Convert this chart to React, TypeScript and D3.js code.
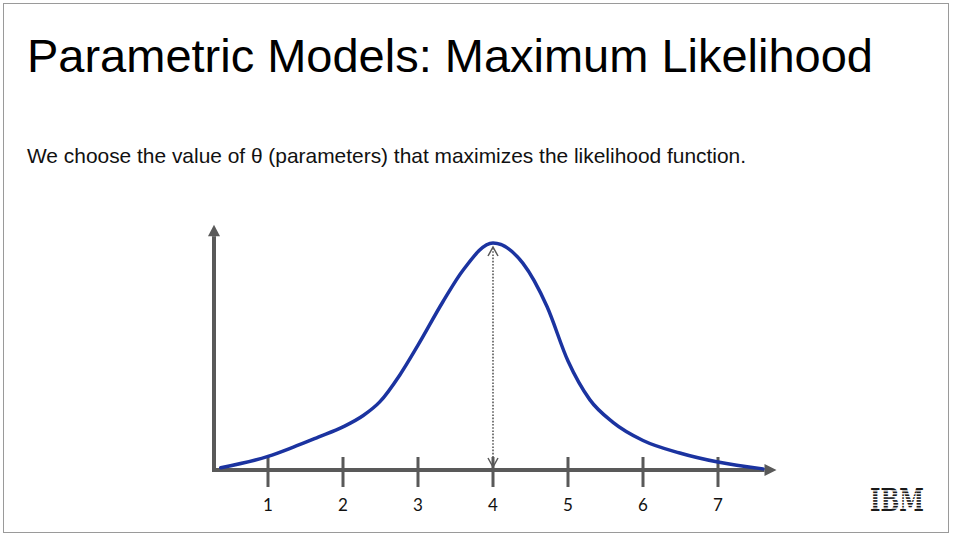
import * as d3 from 'd3';

// Curve (theta vs relative likelihood)
const thetaValues = [0.37, 1, 1.33, 1.67, 2, 2.27, 2.49, 2.76, 3, 3.33, 3.6, 4, 4.4, 4.72, 5, 5.29, 5.6, 6, 6.49, 7, 7.6];
const likelihoodValues = [0.01, 0.06, 0.1, 0.145, 0.19, 0.24, 0.3, 0.42, 0.55, 0.74, 0.88, 1.0, 0.91, 0.72, 0.48, 0.31, 0.21, 0.13, 0.075, 0.035, 0.005];
const xTicks = [1, 2, 3, 4, 5, 6, 7];
const thetaMax = 4;

const title = 'Parametric Models: Maximum Likelihood';
const subtitle = 'We choose the value of θ (parameters) that maximizes the likelihood function.';

const W = 953;
const H = 541;
const axisColor = '#595959';
const curveColor = '#1b33a0';

export default function App() {
  const x = d3.scaleLinear().domain([0, 1]).range([193, 268]);
  const y = d3.scaleLinear().domain([0, 1]).range([470, 243]);

  const pts = thetaValues.map((t, i) => [t, likelihoodValues[i]] as [number, number]);
  const line = d3.line<[number, number]>()
    .x(d => x(d[0]))
    .y(d => y(d[1]))
    .curve(d3.curveMonotoneX);

  const x0 = x(0.28);
  const x1 = x(7.62);
  const xTip = x(7.78);
  const y0 = y(0);
  const yTop = y(1.03);
  const yTip = y(1.08);

  const mx = x(thetaMax);
  const peakY = y(1) + 3;

  // IBM logo stripes
  const stripes = d3.range(7).map(i => 488 + (i + 1) * (23 / 8) - 0.6);

  return (
    <div style={{ position: 'fixed', left: 0, top: 0 }}>
      <svg width={W} height={H} style={{ display: 'block', background: '#fff' }}>
        <rect x={3.5} y={3.5} width={945} height={529} fill="#fff" stroke="#9a9a9a" strokeWidth={1} />
        <text x={27} y={72} fontFamily="Liberation Sans, Arial, sans-serif" fontSize={47} textLength={846} lengthAdjust="spacingAndGlyphs" fill="#000">{title}</text>
        <text x={27} y={163} fontFamily="Liberation Sans, Arial, sans-serif" fontSize={21} textLength={719} lengthAdjust="spacingAndGlyphs" fill="#111">{subtitle}</text>

        {/* y axis */}
        <line x1={x0} x2={x0} y1={y0 + 2} y2={yTop} stroke={axisColor} strokeWidth={4} />
        <path d={`M${x0},${yTip} L${x0 - 6},${yTop} L${x0 + 6},${yTop} Z`} fill={axisColor} />

        {/* x axis */}
        <line x1={x0 - 2} x2={x1} y1={y0} y2={y0} stroke={axisColor} strokeWidth={4} />
        <path d={`M${xTip},${y0} L${x1},${y0 - 6} L${x1},${y0 + 6} Z`} fill={axisColor} />

        {xTicks.map(t => (
          <g key={t}>
            <line x1={x(t)} x2={x(t)} y1={y0 - 13} y2={y0 + 17} stroke={axisColor} strokeWidth={3} />
            <text x={x(t)} y={511} textAnchor="middle" fontFamily="Lato, Open Sans, sans-serif" fontSize={17} fill="#111">{t}</text>
          </g>
        ))}

        {/* dotted arrow at the maximum */}
        <line x1={mx} x2={mx} y1={peakY + 2} y2={y0 - 3} stroke={axisColor} strokeWidth={1.6} strokeDasharray="1.6,1.6" />
        <path d={`M${mx - 5},${peakY + 10} L${mx},${peakY + 1} L${mx + 5},${peakY + 10}`} fill="none" stroke={axisColor} strokeWidth={1.5} />
        <path d={`M${mx - 5},${y0 - 12} L${mx},${y0 - 3} L${mx + 5},${y0 - 12}`} fill="none" stroke={axisColor} strokeWidth={1.5} />

        <path d={line(pts) ?? ''} fill="none" stroke={curveColor} strokeWidth={3.5} strokeLinecap="round" />

        {/* IBM logo */}
        <text x={870} y={511} fontFamily="DejaVu Serif, serif" fontWeight="bold" fontSize={31} textLength={54} lengthAdjust="spacingAndGlyphs" fill="#1a1a1a">IBM</text>
        {stripes.map((s, i) => (
          <rect key={i} x={866} y={s} width={62} height={1.2} fill="#fff" />
        ))}
      </svg>
    </div>
  );
}
